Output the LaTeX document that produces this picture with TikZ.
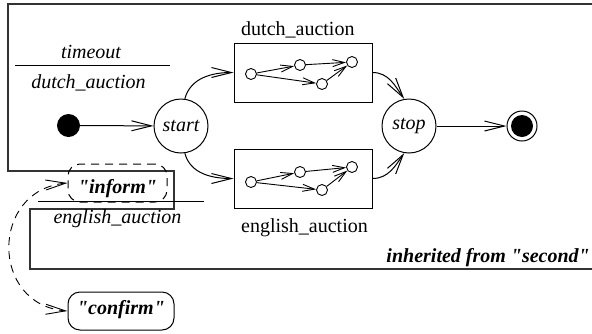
\documentclass[tikz,border=0pt]{standalone}
\usepackage{fontspec}
\setmainfont{Liberation Serif}[Ligatures=TeXOff]
\usetikzlibrary{arrows.meta}
\newcommand\lblsize{\fontsize{20}{24}\selectfont}
\tikzset{
  lbl/.style={inner sep=0pt, anchor=base, font=\lblsize},
  ilbl/.style={lbl, font=\lblsize\itshape},
  bilbl/.style={lbl, font=\lblsize\bfseries\itshape},
  frameline/.style={draw=black!80, line width=1.3pt},
  state/.style={circle, draw, line width=1pt, minimum size=54pt, inner sep=0pt, font=\lblsize\itshape},
  substate/.style={circle, draw, line width=0.9pt, minimum size=11pt, inner sep=0pt},
  compbox/.style={draw, line width=1pt, minimum width=138pt, minimum height=59pt, inner sep=0pt},
  trans/.style={line width=1pt, -{Straight Barb[length=20pt,width=10pt,line width=1pt]}},
  subtrans/.style={line width=0.9pt, -{Straight Barb[length=12pt,width=7pt,line width=0.9pt]}},
  msgflow/.style={line width=0.9pt, dash pattern=on 8pt off 6pt,
    {Straight Barb[length=20pt,width=10pt,line width=0.9pt]}-{Straight Barb[length=20pt,width=10pt,line width=0.9pt]}},
  signal/.style={draw, line width=1pt, rounded corners=12pt, inner sep=0pt},
}
\begin{document}
\begin{tikzpicture}[x=1pt, y=-1pt]
  \useasboundingbox (0,0) rectangle (592,333);

  % outline of the enclosing (inherited) state
  \draw[frameline] (592,4) -- (8,4) -- (8,171) -- (174,171) -- (174,209)
    -- (30,209) -- (30,269) -- (592,269);

  % timeout / dutch_auction label
  \node[ilbl] (tmo) at (91,58) {timeout};
  \coordinate (tmoL) at (15,65);
  \coordinate (tmoR) at (170,65);
  \draw[line width=1pt] (tmoL) -- (tmoR);
  \node[ilbl] (tmoact) at (88.5,88) {dutch\_auction};

  % initial state and start
  \node[circle, fill, minimum size=23pt, inner sep=0pt] (init) at (68.5,125.5) {};
  \node[state] (start) at (181,126) {start};
  \draw[trans] (init) -- (start);

  % composite states
  \node[compbox] (dutch) at (303,72.5) {};
  \node[lbl, anchor=base west] (dutchlbl) at (241,35) {dutch\_auction};
  \node[compbox] (english) at (303,178.5) {};
  \node[lbl, anchor=base west] (englishlbl) at (241,232) {english\_auction};

  % inner machine of dutch_auction
  \begin{scope}[shift={(234,43)}]
    \node[substate] (da) at (17,31) {};
    \node[substate] (db) at (66,22) {};
    \node[substate] (dc) at (88,41) {};
    \node[substate] (dd) at (118,19) {};
  \end{scope}
  \draw[subtrans] (da) -- (db);
  \draw[subtrans] (da) -- (dc);
  \draw[subtrans] (db) -- (dd);
  \draw[subtrans] (dc) -- (dd);

  % inner machine of english_auction
  \begin{scope}[shift={(234,149)}]
    \node[substate] (ea) at (17,33) {};
    \node[substate] (eb) at (66,23) {};
    \node[substate] (ec) at (88,41) {};
    \node[substate] (ed) at (118,18) {};
  \end{scope}
  \draw[subtrans] (ea) -- (eb);
  \draw[subtrans] (ea) -- (ec);
  \draw[subtrans] (eb) -- (ed);
  \draw[subtrans] (ec) -- (ed);

  % stop and final state
  \node[state] (stop) at (409,126) {stop};
  \node[circle, draw, line width=1pt, minimum size=30pt, inner sep=0pt] (final) at (522,126) {};
  \fill (final.center) circle (11pt);

  % transitions
  \draw[trans] (start.82) to[out=75, in=180] (dutch.west);
  \draw[trans] (start.-82) to[out=-75, in=180] (english.west);
  \draw[trans] (dutch.east) to[out=0, in=125] (stop.100);
  \draw[trans] (english.east) to[out=0, in=-125] (stop.-100);
  \draw[trans] (stop) -- (final);

  % "inform" / english_auction label with its signal
  \node[signal, dashed, dash pattern=on 8pt off 6pt, minimum width=99pt, minimum height=38pt] (informbox) at (117.5,183) {};
  \node[bilbl] (inform) at (117.5,193) {"inform"};
  \coordinate (infL) at (38,201);
  \coordinate (infR) at (204,201);
  \draw[line width=1pt] (infL) -- (infR);
  \node[ilbl] (infact) at (117.5,223) {english\_auction};

  % "confirm" signal
  \node[signal, minimum width=106pt, minimum height=38pt] (confirmbox) at (121,311) {};
  \node[bilbl] (confirm) at (121,314) {"confirm"};

  \draw[msgflow] (informbox.west) .. controls (-10,190) and (-10,305) .. (confirmbox.west);

  % inheritance note
  \node[bilbl, anchor=base east] (inherited) at (590,262) {inherited from "second"};
\end{tikzpicture}
\end{document}
